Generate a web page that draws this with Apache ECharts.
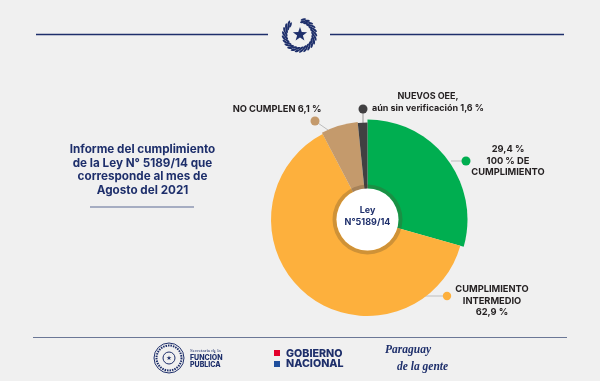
<!DOCTYPE html>
<html><head><meta charset="utf-8">
<style>html,body{margin:0;padding:0;background:#f0f0f0}#c{width:600px;height:381px}</style>
<script src="https://cdn.jsdelivr.net/npm/echarts@6/dist/echarts.min.js"></script>
</head><body><div id="c"></div>
<script>
const categories = ['29,4 %\n100 % DE\nCUMPLIMIENTO','CUMPLIMIENTO\nINTERMEDIO\n62,9 %','NO CUMPLEN 6,1 %','NUEVOS OEE,\naún sin verificación 1,6 %'];
const values = [29.4,62.9,6.1,1.6];
const colors = ['#00AE50','#FDB03D','#C49A6C','#414042'];
const radii = [100,96.5,98,97];
const labelPos = [[508,161],[492,301],[277,109.5],[428,102.5]];
const titleText = 'Informe del cumplimiento\nde la Ley N° 5189/14 que\ncorresponde al mes de\nAgosto del 2021';
const centerText = 'Ley\nN°5189/14';
const navy = '#1E2F6B';
const font = 'Inter';
const cx = 367.5, cy = 219.5;

const chart = echarts.init(document.getElementById('c'));
const series = categories.map((_, k) => ({
  type:'pie', center:[cx,cy], radius:[0,radii[k]], startAngle:90, clockwise:true, silent:true, animation:false,
  data: categories.map((n,i)=>({name:n,value:values[i],
    itemStyle:{color:i===k?colors[i]:'rgba(0,0,0,0)'},
    label:{show:i===k},labelLine:{show:false}})),
  label:{position:'outside',formatter:'{b}',fontFamily:font,fontWeight:700,fontSize:k===3?9:9.3,lineHeight:11.5,color:'#231F20',align:'center'},
  labelLayout:()=>({x:labelPos[k][0],y:labelPos[k][1],align:'center',verticalAlign:'middle'}),
  z:2
}));
series.push({type:'pie',center:[cx,cy],radius:[31,35],silent:true,animation:false,label:{show:false},labelLine:{show:false},
  data:[{value:1,itemStyle:{color:'rgba(90,70,40,0.28)'}}],z:3});
series.push({type:'pie',center:[cx,cy],radius:[0,31],silent:true,animation:false,z:4,
  data:[{value:1,name:centerText,itemStyle:{color:'#fff'}}],
  labelLayout:()=>({dy:-3}),
  label:{position:'center',formatter:'{b}',fontFamily:font,fontWeight:700,fontSize:9,lineHeight:11.5,color:navy},labelLine:{show:false}});

const line=(x1,y1,x2,y2,c,w)=>({type:'line',shape:{x1,y1,x2,y2},style:{stroke:c,lineWidth:w},z:1});
const dot=(x,y,r,c)=>({type:'circle',shape:{cx:x,cy:y,r},style:{fill:c},z:5});
const txt=(x,y,t,s,w,c,a,f,st)=>({type:'text',x,y,style:{text:t,font:`${st||'normal'} ${w} ${s}px ${f||font}`,fill:c||navy,align:a||'left',verticalAlign:'middle'},z:5});

// Wreath leaves around the crest
function wreath(x,y,r,n,c){
  const out=[];
  for(let i=0;i<n;i++){
    const a=(-76+(i*304/(n-1)))*Math.PI/180;
    out.push({type:'ellipse',shape:{cx:0,cy:0,rx:1.1,ry:2.8},x:x+r*Math.cos(a),y:y+r*Math.sin(a),rotation:-a+0.5,style:{fill:c},z:5});
  }
  return out;
}
const graphic=[
  line(36,34.5,268,34.5,navy,1.5), line(330,34.5,564,34.5,navy,1.5),
  line(90,207,194,207,'#5C6A94',1), line(33,337.5,567,337.5,'#6B7796',1.2),
  ...wreath(299.5,35,13.5,22,navy), ...wreath(299.5,35,16,22,navy),
  {type:'polygon',shape:{points:[0,1,2,3,4,5,6,7,8,9].map(i=>{const r=i%2?3:7.5,a=-Math.PI/2+i*Math.PI/5;return [300+r*Math.cos(a),34.5+r*Math.sin(a)];})},style:{fill:navy},z:5},
  {type:'text',x:142.5,y:170,style:{text:titleText,font:`700 11.7px ${font}`,lineHeight:13.8,fill:navy,align:'center',verticalAlign:'middle'},z:5},
  line(315,121,328,130,'#BDBDBD',1), dot(315,121,4.5,colors[2]),
  line(363,109,363,123,'#9a9a9a',1), dot(363,109,4.5,colors[3]),
  line(451,161,466,161,'#BDBDBD',1), dot(466,161,4.5,colors[0]),
  line(425,296,447,296,'#CFCFCF',1.5), dot(447,296,4.2,colors[1]),
  // footer marks
  {type:'circle',shape:{cx:169,cy:358,r:15},style:{fill:'none',stroke:navy,lineWidth:1},z:5},
  {type:'circle',shape:{cx:169,cy:358,r:12.5},style:{fill:'none',stroke:navy,lineWidth:2,lineDash:[1.5,1]},z:5},
  {type:'circle',shape:{cx:169,cy:358,r:6},style:{fill:'none',stroke:navy,lineWidth:1},z:5},
  {type:'polygon',shape:{points:[0,1,2,3,4,5,6,7,8,9].map(i=>{const r=i%2?1:2.6,a=-Math.PI/2+i*Math.PI/5;return [169+r*Math.cos(a),358+r*Math.sin(a)];})},style:{fill:navy},z:5},
  txt(190,350.5,'Secretaría de la',5,'400',navy,'left','Liberation Serif'),
  txt(190,358,'FUNCIÓN',7,'800'), txt(190,365,'PÚBLICA',7,'800'),
  {type:'rect',shape:{x:274,y:350,width:6,height:6},style:{fill:'#E3002B'},z:5},
  {type:'rect',shape:{x:274,y:361,width:6,height:6},style:{fill:'#1F4E9C'},z:5},
  txt(286,354,'GOBIERNO',10.7,'800'), txt(286,363.5,'NACIONAL',10.7,'800'),
  txt(385,350,'Paraguay',11.5,'700',navy,'left','Liberation Serif','italic'),
  txt(397,367,'de la gente',11.5,'700',navy,'left','Liberation Serif','italic')
];
chart.setOption({backgroundColor:'#f0f0f0',animation:false,series,graphic});
</script></body></html>
